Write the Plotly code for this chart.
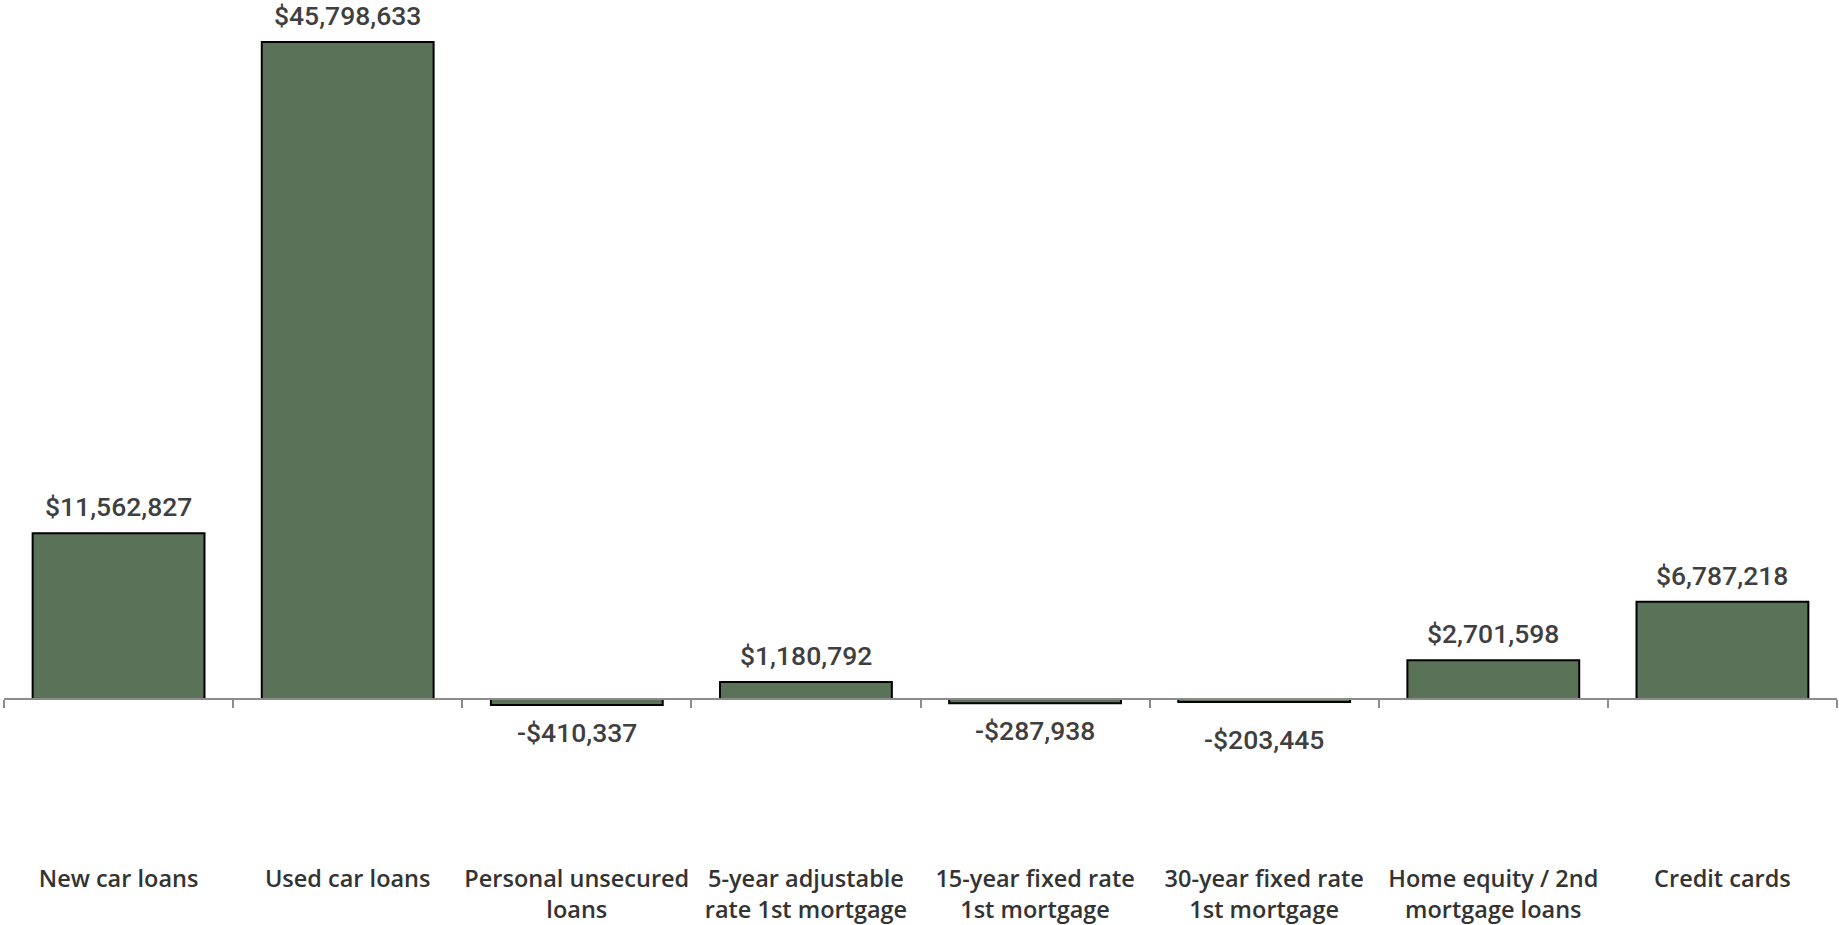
import plotly.graph_objects as go

# Net change by loan type
categories = [
    "New car loans",
    "Used car loans",
    "Personal unsecured<br>loans",
    "5-year adjustable<br>rate 1st mortgage",
    "15-year fixed rate<br>1st mortgage",
    "30-year fixed rate<br>1st mortgage",
    "Home equity / 2nd<br>mortgage loans",
    "Credit cards",
]
values = [11562827, 45798633, -410337, 1180792, -287938, -203445, 2701598, 6787218]

BAR_COLOR = "#5a7258"
LABEL_COLOR = "#3f3f3f"

# extra vertical nudge (px) for individual value labels
label_nudge = {"30-year fixed rate<br>1st mortgage": -10}

fig = go.Figure(
    go.Bar(
        x=categories,
        y=values,
        marker=dict(color=BAR_COLOR, line=dict(color="#000000", width=2)),
        hoverinfo="skip",
    )
)

def money(v):
    return ("-$" if v < 0 else "$") + f"{abs(v):,}"

for cat, v in zip(categories, values):
    shift = 9 if v >= 0 else -10
    fig.add_annotation(
        x=cat,
        y=v,
        text=money(v),
        showarrow=False,
        yanchor="bottom" if v >= 0 else "top",
        yshift=shift + label_nudge.get(cat, 0),
        font=dict(family="Roboto", size=26.5, color=LABEL_COLOR, weight=500),
    )

y_min, y_max = -15.75e6, 48.73e6

fig.update_layout(
    width=1839,
    height=925,
    margin=dict(l=4, r=2, t=0, b=0),
    paper_bgcolor="white",
    plot_bgcolor="white",
    bargap=0.25,
    showlegend=False,
    xaxis=dict(
        anchor="free",
        position=-y_min / (y_max - y_min),
        showline=True,
        linecolor="#8c8c8c",
        linewidth=2,
        ticks="outside",
        tickson="boundaries",
        ticklen=8,
        tickwidth=2,
        tickcolor="#8c8c8c",
        tickangle=0,
        ticklabelstandoff=159,
        showgrid=False,
        zeroline=False,
        automargin=False,
        tickfont=dict(family="Open Sans", size=23.5, color="#333333", weight=600),
    ),
    yaxis=dict(
        range=[y_min, y_max],
        visible=False,
        showgrid=False,
        zeroline=False,
        fixedrange=True,
    ),
)

fig.write_html("out.html")
